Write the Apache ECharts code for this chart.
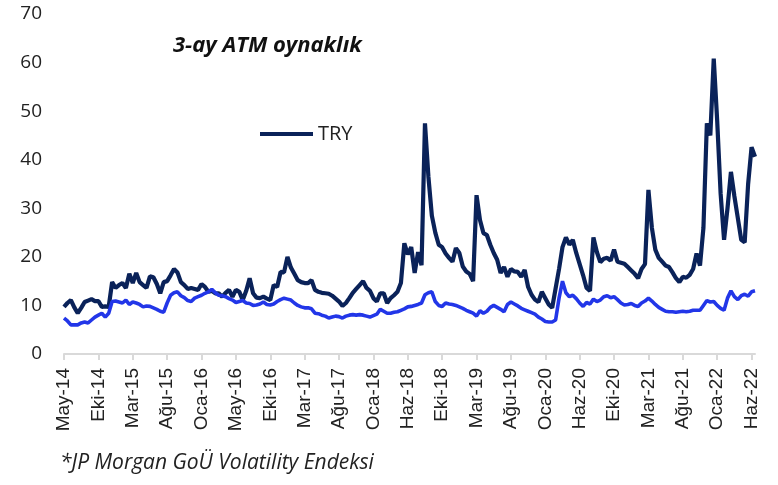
<!DOCTYPE html>
<html>
<head>
<meta charset="utf-8">
<script src="https://cdn.jsdelivr.net/npm/echarts@6/dist/echarts.min.js"></script>
<style>
  html, body { margin: 0; padding: 0; background: #fff; }
  #main_chart { width: 778px; height: 485px; }
</style>
</head>
<body>
<div id="main_chart"></div>
<script>
// ay etiketleri (her 10 noktada bir)
var tickLabels = ['May-14', 'Eki-14', 'Mar-15', 'Ağu-15', 'Oca-16', 'May-16', 'Eki-16', 'Mar-17', 'Ağu-17', 'Oca-18',
    'Haz-18', 'Eki-18', 'Mar-19', 'Ağu-19', 'Oca-20', 'Haz-20', 'Eki-20', 'Mar-21', 'Ağu-21', 'Oca-22', 'Haz-22'];

// TRY 3-ay ATM oynaklik
var tryVol = [
    9.7, 10.5, 11.1, 9.6, 8.4, 9.5, 10.7, 11.0, 11.3, 10.9,
    10.9, 9.7, 9.8, 9.7, 14.8, 13.6, 14.2, 14.6, 13.6, 16.5,
    14.6, 16.7, 14.8, 14.2, 13.6, 16.0, 15.8, 14.4, 12.5, 14.8,
    15.0, 16.2, 17.5, 16.8, 14.8, 14.2, 13.4, 13.6, 13.4, 13.2,
    14.4, 13.8, 12.8, 13.0, 12.5, 12.5, 11.8, 12.6, 13.2, 11.8,
    13.2, 12.8, 11.1, 13.0, 15.6, 12.5, 11.6, 11.5, 11.8, 11.4,
    11.1, 14.2, 13.8, 16.9, 16.8, 20.0, 17.8, 16.5, 15.2, 14.8,
    14.6, 14.6, 15.2, 13.2, 12.8, 12.6, 12.5, 12.4, 12.0, 11.4,
    10.8, 9.9, 10.5, 11.5, 12.6, 13.4, 14.2, 15.0, 13.6, 13.0,
    11.5, 10.8, 12.5, 12.5, 10.5, 11.5, 12.1, 12.8, 14.6, 22.8,
    20.5, 22.0, 16.7, 21.0, 18.3, 47.5, 36.5, 28.5, 25.0, 22.5,
    22.0, 20.7, 19.8, 19.0, 21.8, 20.8, 18.0, 17.0, 16.5, 15.0,
    32.7, 27.6, 24.9, 24.5, 22.5, 20.8, 19.4, 16.7, 17.9, 15.9,
    17.5, 17.0, 16.9, 15.9, 17.3, 13.8, 12.2, 11.2, 10.7, 12.8,
    11.5, 10.2, 9.5, 13.5, 17.5, 22.0, 24.0, 22.5, 23.5, 20.8,
    18.5, 16.2, 13.6, 13.0, 24.0, 21.0, 18.9, 19.6, 19.8, 19.2,
    21.5, 19.0, 18.8, 18.6, 17.9, 17.2, 16.5, 15.6, 17.5, 18.5,
    33.8, 26.0, 21.5, 19.8, 19.0, 18.2, 17.9, 16.8, 15.6, 14.8,
    15.9, 15.7, 16.3, 17.5, 20.7, 18.2, 26.0, 47.5, 45.0, 60.8,
    48.0, 33.0, 23.5, 30.0, 37.5, 32.5, 28.0, 23.5, 23.0, 35.0,
    42.6, 40.6
];

// JP Morgan GoU volatilite endeksi
var emVol = [
    7.4, 6.8, 6.0, 6.0, 6.0, 6.4, 6.6, 6.4, 7.0, 7.6,
    8.0, 8.4, 7.6, 8.4, 10.8, 10.9, 10.7, 10.5, 11.1, 10.2,
    10.7, 10.5, 10.2, 9.7, 9.9, 9.8, 9.5, 9.2, 8.8, 8.6,
    10.5, 12.1, 12.6, 12.8, 12.0, 11.6, 11.0, 10.8, 11.5, 11.8,
    12.1, 12.5, 12.8, 13.3, 12.6, 12.1, 12.0, 11.8, 11.4, 11.1,
    10.6, 10.8, 11.0, 10.5, 10.4, 10.0, 10.1, 10.3, 10.7, 10.2,
    10.1, 10.3, 10.8, 11.2, 11.5, 11.3, 11.1, 10.5, 10.0, 9.7,
    9.5, 9.5, 9.3, 8.4, 8.3, 8.0, 7.8, 7.4, 7.6, 7.8,
    7.7, 7.4, 7.8, 8.0, 8.1, 8.0, 8.1, 8.0, 7.8, 7.6,
    7.9, 8.2, 9.2, 8.8, 8.4, 8.4, 8.6, 8.7, 9.0, 9.3,
    9.7, 9.8, 10.0, 10.2, 10.5, 12.2, 12.6, 12.8, 10.8, 10.0,
    9.8, 10.5, 10.3, 10.2, 10.0, 9.7, 9.4, 9.0, 8.7, 8.4,
    7.8, 8.9, 8.4, 8.8, 9.6, 10.0, 9.6, 9.2, 8.7, 10.2,
    10.7, 10.3, 9.9, 9.4, 9.1, 8.8, 8.5, 8.2, 7.6, 7.2,
    6.7, 6.6, 6.6, 7.0, 11.5, 15.0, 12.6, 11.8, 12.1, 11.4,
    10.5, 9.8, 10.6, 10.3, 11.3, 10.8, 11.1, 11.8, 12.0, 11.6,
    11.8, 11.2, 10.5, 10.1, 10.2, 10.4, 10.0, 9.8, 10.5, 10.9,
    11.5, 10.9, 10.2, 9.6, 9.2, 8.8, 8.7, 8.7, 8.6, 8.7,
    8.8, 8.7, 8.8, 9.0, 9.0, 9.0, 10.0, 11.0, 10.7, 10.8,
    10.0, 9.4, 9.0, 11.5, 13.0, 11.8, 11.2, 12.0, 12.3, 11.9,
    12.8, 13.0
];

var categories = [];
for (var i = 0; i < tryVol.length; i++) {
    categories.push(i % 10 === 0 ? tickLabels[i / 10] : '');
}

var myChart = echarts.init(document.getElementById('main_chart'));

var option = {
    animation: false,
    backgroundColor: '#fff',
    title: [{
        text: '3-ay ATM oynaklık',
        left: 173,
        top: 35,
        padding: 0,
        textStyle: {
            fontFamily: 'Open Sans',
            fontStyle: 'italic',
            fontWeight: 'bold',
            fontSize: 22,
            color: '#111'
        }
    }, {
        text: '*JP Morgan GoÜ Volatility Endeksi',
        left: 60,
        top: 453,
        padding: 0,
        textStyle: {
            fontFamily: 'Open Sans',
            fontStyle: 'italic',
            fontWeight: 'normal',
            fontSize: 21,
            color: '#222'
        }
    }],
    legend: {
        data: ['TRY'],
        left: 255,
        top: 119,
        icon: 'rect',
        itemWidth: 53,
        itemHeight: 4,
        textStyle: {
            fontFamily: 'Open Sans',
            fontSize: 20,
            color: '#222'
        }
    },
    grid: {
        left: 64,
        right: 23,
        top: 14,
        bottom: 131
    },
    xAxis: {
        type: 'category',
        boundaryGap: false,
        data: categories,
        axisLine: {lineStyle: {color: '#d9d9d9', width: 2}},
        axisTick: {show: true, interval: 9, length: 6, lineStyle: {color: '#d9d9d9', width: 2}},
        axisLabel: {
            interval: 9,
            rotate: 90,
            margin: 14,
            fontFamily: 'Liberation Sans',
            fontSize: 19,
            color: '#222'
        },
        splitLine: {show: false}
    },
    yAxis: {
        type: 'value',
        min: 0,
        max: 70,
        interval: 10,
        axisLine: {show: false},
        axisTick: {show: false},
        splitLine: {show: false},
        axisLabel: {
            margin: 22,
            fontFamily: 'Open Sans',
            fontSize: 19,
            color: '#222'
        }
    },
    series: [{
        name: 'TRY',
        type: 'line',
        data: tryVol,
        symbol: 'none',
        color: '#0a2259',
        lineStyle: {color: '#0a2259', width: 4.2}
    }, {
        name: 'GoÜ',
        type: 'line',
        data: emVol,
        symbol: 'none',
        color: '#2236e8',
        lineStyle: {color: '#2236e8', width: 3.6}
    }]
};
myChart.setOption(option);
</script>
</body>
</html>
